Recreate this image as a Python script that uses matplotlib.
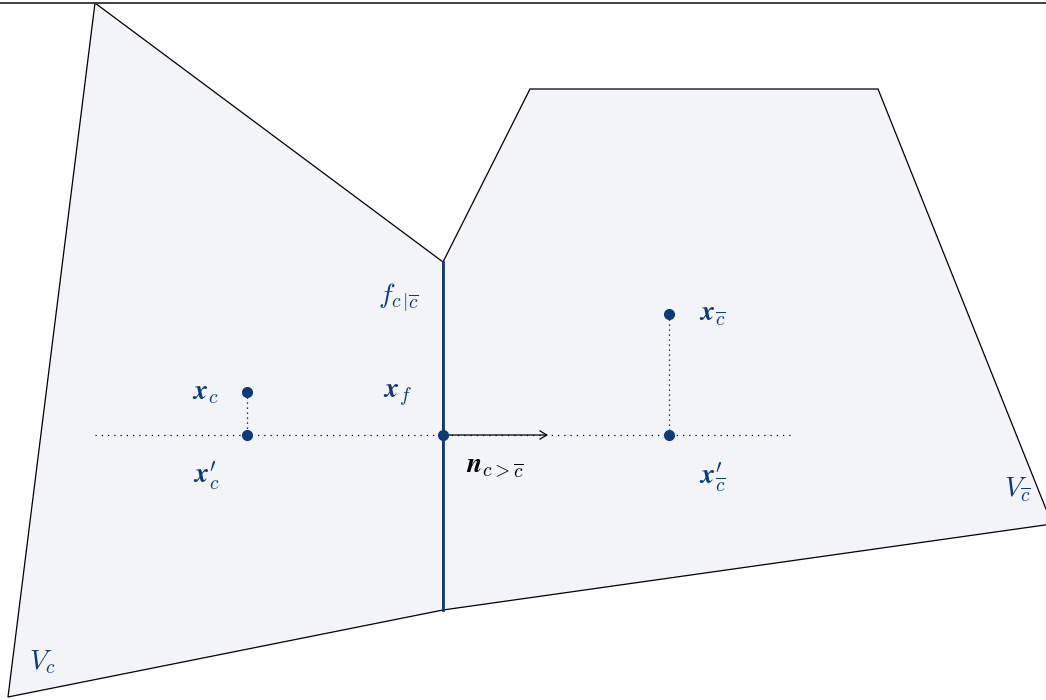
import matplotlib.pyplot as plt
from matplotlib.patches import Polygon

plt.rcParams['mathtext.fontset'] = 'cm'

# cell outlines (picture coordinates, y downwards)
cell_c = [(95, 3), (443, 262), (443, 610), (8, 697)]
cell_cbar = [(443, 262), (530, 89), (878, 89), (1052, 524), (443, 610)]
face = [(443, 262), (443, 610)]

# points
x_c = (247, 392)
x_c_proj = (247, 435)
x_f = (443, 435)
x_cbar = (669, 314)
x_cbar_proj = (669, 435)
line_y = 435
line_x = (95, 790)
arrow_end = 548

blue = '#0f3a78'
fill = '#f2f4f8'

fig = plt.figure(figsize=(10.46, 7.0), dpi=100)
ax = fig.add_axes([0, 0, 1, 1])
ax.set_xlim(0, 1046)
ax.set_ylim(700, 0)
ax.axis('off')

for cell in (cell_c, cell_cbar):
    ax.add_patch(Polygon(cell, closed=True, facecolor=fill, edgecolor='black', lw=0.9))

ax.axhline(3, color='#333333', lw=1.3)

ax.plot([p[0] for p in face], [p[1] for p in face], color=blue, lw=2)

ax.plot(line_x, [line_y, line_y], color='black', lw=0.9, ls=(0, (1, 4)))
ax.plot([x_c[0], x_c_proj[0]], [x_c[1], x_c_proj[1]], color='black', lw=0.9, ls=(0, (1, 3)))
ax.plot([x_cbar[0], x_cbar_proj[0]], [x_cbar[1], x_cbar_proj[1]], color='black', lw=0.9, ls=(0, (1, 3)))

ax.annotate('', xy=(arrow_end, line_y), xytext=x_f,
            arrowprops=dict(arrowstyle='->,head_length=0.5,head_width=0.3', color='black',
                            lw=0.9, shrinkA=0, shrinkB=0))

for p in (x_c, x_c_proj, x_f, x_cbar, x_cbar_proj):
    ax.plot(p[0], p[1], 'o', color=blue, ms=7, zorder=5)

fs = 20
ax.text(205, 392, r'$\mathbfit{x}_c$', color=blue, fontsize=fs, ha='center', va='center')
ax.text(206, 476, r"$\mathbfit{x}^{\prime}_{c}$", color=blue, fontsize=fs, ha='center', va='center')
ax.text(398, 395, r'$\mathbfit{x}_f$', color=blue, fontsize=fs, ha='center', va='center')
ax.text(398, 297, r'$f_{c\,|\overline{c}}$', color=blue, fontsize=fs, ha='center', va='center')
ax.text(712, 314, r'$\mathbfit{x}_{\overline{c}}$', color=blue, fontsize=fs, ha='center', va='center')
ax.text(712, 478, r"$\mathbfit{x}^{\prime}_{\overline{c}}$", color=blue, fontsize=fs, ha='center', va='center')
ax.text(495, 466, r'$\mathbfit{n}_{c>\overline{c}}$', color='black', fontsize=fs, ha='center', va='center')
ax.text(42, 662, r'$V_c$', color=blue, fontsize=fs, ha='center', va='center')
ax.text(1017, 490, r'$V_{\overline{c}}$', color=blue, fontsize=fs, ha='center', va='center')

fig.savefig('out.png', dpi=100)
